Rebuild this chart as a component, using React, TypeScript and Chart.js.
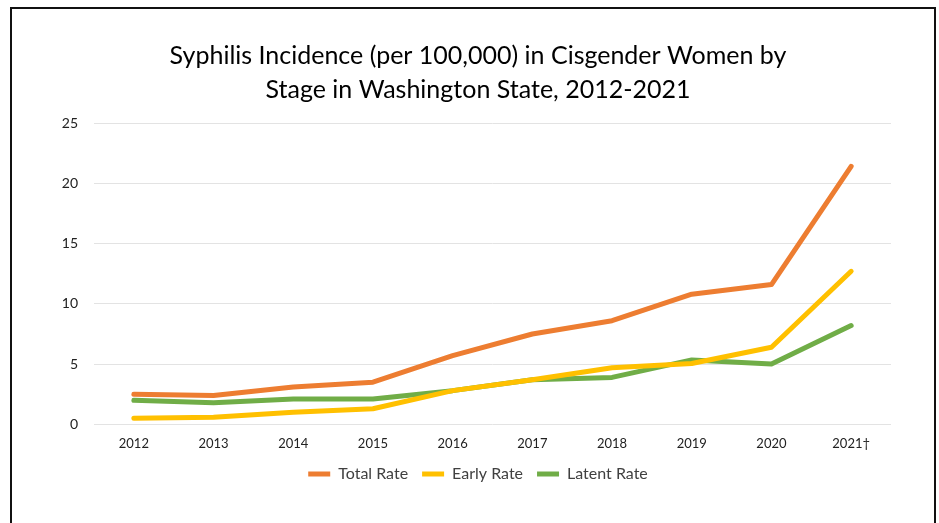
import React, { useEffect, useRef } from "react";
import { Chart, registerables } from "chart.js";

Chart.register(...registerables);

const categories = ["2012", "2013", "2014", "2015", "2016", "2017", "2018", "2019", "2020", "2021†"];
const totalRate = [2.5, 2.4, 3.1, 3.5, 5.7, 7.5, 8.6, 10.8, 11.6, 21.4];
const earlyRate = [0.5, 0.6, 1.0, 1.3, 2.8, 3.7, 4.7, 5.05, 6.4, 12.7];
const latentRate = [2.0, 1.8, 2.1, 2.1, 2.8, 3.7, 3.9, 5.35, 5.0, 8.2];
const yTicks = [0, 5, 10, 15, 20, 25];
const titleLines = [
  "Syphilis Incidence (per 100,000) in Cisgender Women by",
  "Stage in Washington State, 2012-2021",
];

const FONT = "Lato, 'Open Sans', sans-serif";
const LEGEND_SHIFT = 12;

export default function App() {
  const ref = useRef<HTMLCanvasElement | null>(null);

  useEffect(() => {
    if (!ref.current) return;
    const mk = (label: string, data: number[], color: string) => ({
      label,
      data,
      borderColor: color,
      backgroundColor: color,
      borderWidth: 5,
      borderCapStyle: "round" as const,
      borderJoinStyle: "round" as const,
      pointRadius: 0,
      pointStyle: "line" as const,
      tension: 0,
      fill: false,
      yAxisID: "y",
    });
    const legendLift = {
      id: "legendLift",
      afterLayout(chart: any) {
        const l = chart.legend;
        if (l) {
          l.top -= LEGEND_SHIFT;
          l.bottom -= LEGEND_SHIFT;
        }
      },
    };
    const chart = new Chart(ref.current, {
      type: "line",
      data: {
        labels: categories,
        datasets: [
          mk("Total Rate", totalRate, "#ED7D31"),
          mk("Early Rate", earlyRate, "#FFC000"),
          mk("Latent Rate", latentRate, "#70AD47"),
        ],
      },
      options: {
        animation: false,
        responsive: true,
        maintainAspectRatio: false,
        layout: { padding: { left: 10, right: 0, top: 0, bottom: 21 } },
        plugins: {
          title: {
            display: true,
            text: titleLines,
            color: "#000",
            font: { family: FONT, size: 25, weight: "normal", lineHeight: 1.36 },
            padding: { top: 30, bottom: 16 },
          },
          legend: {
            position: "bottom",
            labels: {
              usePointStyle: true,
              pointStyleWidth: 22,
              color: "#404040",
              font: { family: FONT, size: 16 },
              padding: 14,
            },
          },
          tooltip: { enabled: false },
        },
        scales: {
          x: {
            offset: true,
            grid: { display: false, drawTicks: false },
            border: { display: false },
            ticks: { color: "#222", font: { family: FONT, size: 13 }, padding: 12, maxRotation: 0 },
          },
          y: {
            min: 0,
            max: 25,
            afterFit: (s: any) => { s.width = 72; },
            afterBuildTicks: (s: any) => { s.ticks = yTicks.map((v) => ({ value: v })); },
            grid: { color: "#e3e3e3", lineWidth: 1, drawTicks: false },
            border: { display: false },
            ticks: { color: "#222", font: { family: FONT, size: 14 }, padding: 16 },
          },
          yRight: {
            position: "right",
            display: true,
            min: 0,
            max: 25,
            afterFit: (s: any) => { s.width = 43; },
            grid: { display: false, drawTicks: false },
            border: { display: false },
            ticks: { display: false },
          },
        },
      },
      plugins: [legendLift],
    });
    return () => chart.destroy();
  }, []);

  return (
    <div
      style={{
        position: "fixed",
        left: 10,
        top: 7,
        width: 922,
        height: 516,
        borderTop: "2px solid #111",
        borderLeft: "2px solid #111",
        borderRight: "2px solid #111",
        background: "#fff",
      }}
    >
      <canvas ref={ref} />
    </div>
  );
}
